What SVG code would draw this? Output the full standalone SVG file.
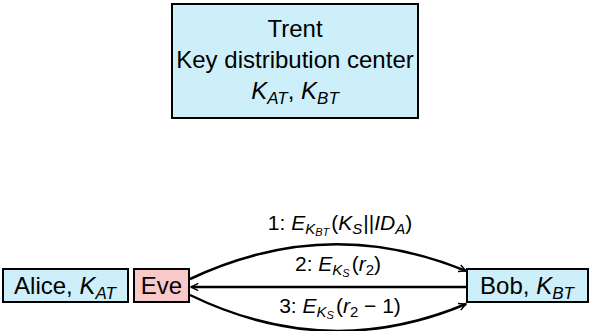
<svg xmlns="http://www.w3.org/2000/svg" width="590" height="331" viewBox="0 0 590 331">
<defs>
<style>
.box{stroke:#000;stroke-width:2}
.blue{fill:#cdeff9}
.red{fill:#f9c9c9}
text{font-family:"Liberation Sans",Arial,sans-serif;fill:#000}
.big{font-size:24px}
.lbl{font-size:21px}
.it{font-style:italic}
.edge{fill:none;stroke:#000;stroke-width:2.5}
</style>
<marker id="ah" viewBox="0 0 10 10" refX="9" refY="5" markerWidth="9" markerHeight="9" markerUnits="userSpaceOnUse" orient="auto">
<path d="M1,1 L9,5 L1,9" fill="none" stroke="#000" stroke-width="1.6"/>
</marker>
</defs>
<g id="trent">
<rect class="box blue" x="172" y="4" width="246" height="114"/>
<text class="big" x="295" y="37" text-anchor="middle">Trent</text>
<text class="big" x="295" y="68" text-anchor="middle">Key distribution center</text>
<text class="big" x="295" y="99" text-anchor="middle"><tspan class="it">K</tspan><tspan class="it" font-size="17" dy="5">AT</tspan><tspan dy="-5">, </tspan><tspan class="it">K</tspan><tspan class="it" font-size="17" dy="5">BT</tspan></text>
</g>
<g id="alice">
<rect class="box blue" x="3" y="269" width="125" height="33"/>
<text class="big" x="65" y="294" text-anchor="middle">Alice, <tspan class="it">K</tspan><tspan class="it" font-size="17" dy="5">AT</tspan></text>
</g>
<g id="eve">
<rect class="box red" x="134" y="269" width="55" height="33"/>
<text class="big" x="161.5" y="294" text-anchor="middle">Eve</text>
</g>
<g id="bob">
<rect class="box blue" x="467" y="269" width="121" height="33"/>
<text class="big" x="527" y="294" text-anchor="middle">Bob, <tspan class="it">K</tspan><tspan class="it" font-size="17" dy="5">BT</tspan></text>
</g>
<g id="connectors">
<path class="edge" d="M190,279 Q328,214 466,271" marker-end="url(#ah)"/>
<path class="edge" d="M466,287 L191,287" marker-end="url(#ah)"/>
<path class="edge" d="M190,295 Q328,362 466,304" marker-end="url(#ah)"/>
<text class="lbl" x="340" y="230" text-anchor="middle">1: <tspan class="it">E</tspan><tspan class="it" font-size="15" dy="4">K</tspan><tspan class="it" font-size="11" dy="2">BT</tspan><tspan dy="-6" dx="2">(</tspan><tspan class="it">K</tspan><tspan class="it" font-size="15" dy="4">S</tspan><tspan dy="-4" dx="1">||</tspan><tspan class="it">ID</tspan><tspan class="it" font-size="15" dy="4">A</tspan><tspan dy="-4">)</tspan></text>
<text class="lbl" x="338" y="271" text-anchor="middle">2: <tspan class="it">E</tspan><tspan class="it" font-size="15" dy="4">K</tspan><tspan class="it" font-size="11" dy="2">S</tspan><tspan dy="-6" dx="2">(</tspan><tspan class="it">r</tspan><tspan font-size="15" dy="4">2</tspan><tspan dy="-4">)</tspan></text>
<text class="lbl" x="340" y="313" text-anchor="middle">3: <tspan class="it">E</tspan><tspan class="it" font-size="15" dy="4">K</tspan><tspan class="it" font-size="11" dy="2">S</tspan><tspan dy="-6" dx="2">(</tspan><tspan class="it">r</tspan><tspan font-size="15" dy="4">2</tspan><tspan dy="-4"> − 1)</tspan></text>
</g>
</svg>
